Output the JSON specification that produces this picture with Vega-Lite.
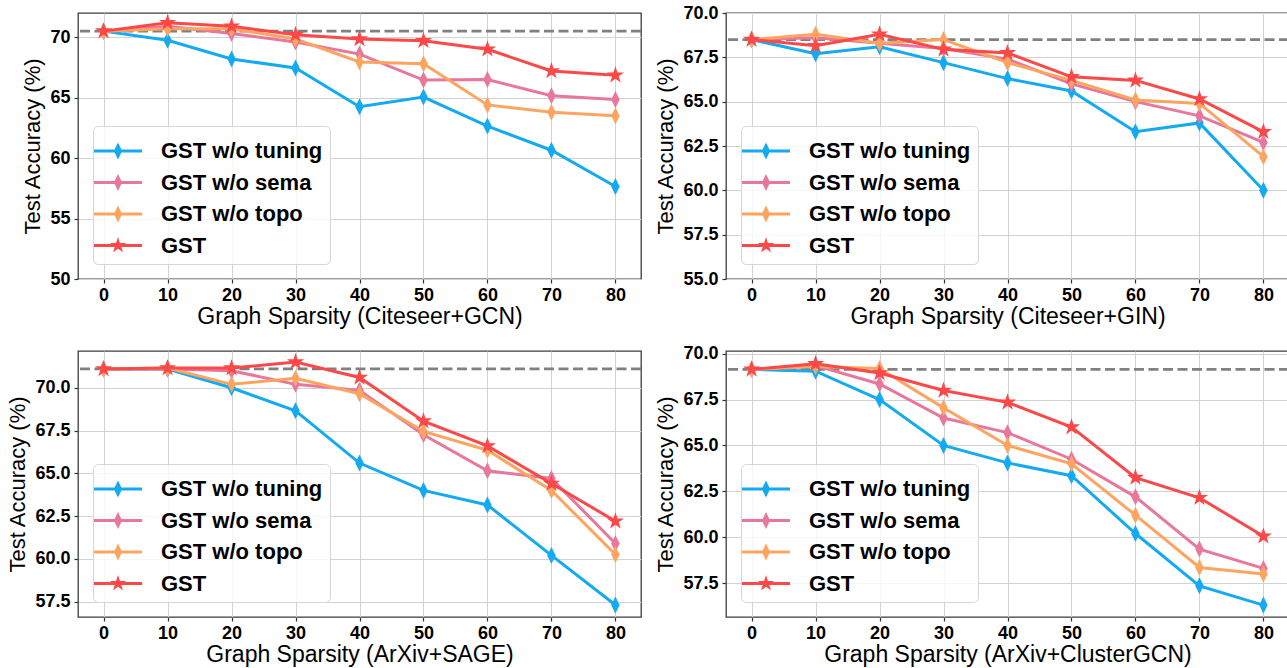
{
  "$schema": "https://vega.github.io/schema/vega-lite/v6.json",
  "background": "white",
  "padding": {"left": 6, "top": 3, "right": 0, "bottom": 0},
  "columns": 2,
  "spacing": {"column": 85, "row": 72},
  "bounds": "flush",
  "resolve": {"scale": {"color": "independent", "x": "independent", "y": "independent"}, "legend": {"color": "independent"}},
  "config": {
    "view": {"stroke": "#3c3c3c", "strokeWidth": 1.3},
    "axis": {"labelFont": "Liberation Sans", "labelFontSize": 18, "labelFontWeight": "bold", "labelColor": "black", "titleFont": "Liberation Sans", "titleFontSize": 22, "titleFontWeight": "normal", "titleColor": "black", "domain": false, "tickColor": "#333333", "tickSize": 4, "tickWidth": 1.2, "gridColor": "#d2d2d2", "gridWidth": 1, "labelPadding": 3, "labelFlush": false},
    "axisX": {"titlePadding": 1, "titleFontSize": 23},
    "axisY": {"titlePadding": 5, "labelPadding": 4},
    "legend": {"orient": "bottom-left", "offset": 15, "labelFont": "Liberation Sans", "labelFontSize": 22, "labelFontWeight": "bold", "labelColor": "black", "labelLimit": 400, "symbolSize": 1296, "symbolStrokeWidth": 0, "labelOffset": 25, "rowPadding": 2.5, "padding": 7, "fillColor": "rgba(255,255,255,0.8)", "strokeColor": "#d6d6d6", "cornerRadius": 5, "strokeWidth": 1}
  },
  "datasets": {
    "acc": [
      {"p":1,"m":"GST w/o tuning","s":0,"a":70.5},{"p":1,"m":"GST w/o tuning","s":10,"a":69.75},{"p":1,"m":"GST w/o tuning","s":20,"a":68.2},{"p":1,"m":"GST w/o tuning","s":30,"a":67.45},{"p":1,"m":"GST w/o tuning","s":40,"a":64.25},{"p":1,"m":"GST w/o tuning","s":50,"a":65.05},{"p":1,"m":"GST w/o tuning","s":60,"a":62.65},{"p":1,"m":"GST w/o tuning","s":70,"a":60.65},{"p":1,"m":"GST w/o tuning","s":80,"a":57.65},
      {"p":1,"m":"GST w/o sema","s":0,"a":70.5},{"p":1,"m":"GST w/o sema","s":10,"a":70.9},{"p":1,"m":"GST w/o sema","s":20,"a":70.3},{"p":1,"m":"GST w/o sema","s":30,"a":69.6},{"p":1,"m":"GST w/o sema","s":40,"a":68.6},{"p":1,"m":"GST w/o sema","s":50,"a":66.45},{"p":1,"m":"GST w/o sema","s":60,"a":66.5},{"p":1,"m":"GST w/o sema","s":70,"a":65.15},{"p":1,"m":"GST w/o sema","s":80,"a":64.85},
      {"p":1,"m":"GST w/o topo","s":0,"a":70.5},{"p":1,"m":"GST w/o topo","s":10,"a":70.7},{"p":1,"m":"GST w/o topo","s":20,"a":70.7},{"p":1,"m":"GST w/o topo","s":30,"a":69.85},{"p":1,"m":"GST w/o topo","s":40,"a":67.95},{"p":1,"m":"GST w/o topo","s":50,"a":67.8},{"p":1,"m":"GST w/o topo","s":60,"a":64.4},{"p":1,"m":"GST w/o topo","s":70,"a":63.8},{"p":1,"m":"GST w/o topo","s":80,"a":63.5},
      {"p":1,"m":"GST","s":0,"a":70.5},{"p":1,"m":"GST","s":10,"a":71.2},{"p":1,"m":"GST","s":20,"a":70.9},{"p":1,"m":"GST","s":30,"a":70.2},{"p":1,"m":"GST","s":40,"a":69.85},{"p":1,"m":"GST","s":50,"a":69.7},{"p":1,"m":"GST","s":60,"a":69.0},{"p":1,"m":"GST","s":70,"a":67.2},{"p":1,"m":"GST","s":80,"a":66.85},

      {"p":2,"m":"GST w/o tuning","s":0,"a":68.5},{"p":2,"m":"GST w/o tuning","s":10,"a":67.7},{"p":2,"m":"GST w/o tuning","s":20,"a":68.1},{"p":2,"m":"GST w/o tuning","s":30,"a":67.2},{"p":2,"m":"GST w/o tuning","s":40,"a":66.3},{"p":2,"m":"GST w/o tuning","s":50,"a":65.6},{"p":2,"m":"GST w/o tuning","s":60,"a":63.3},{"p":2,"m":"GST w/o tuning","s":70,"a":63.8},{"p":2,"m":"GST w/o tuning","s":80,"a":60.0},
      {"p":2,"m":"GST w/o sema","s":0,"a":68.5},{"p":2,"m":"GST w/o sema","s":10,"a":68.6},{"p":2,"m":"GST w/o sema","s":20,"a":68.3},{"p":2,"m":"GST w/o sema","s":30,"a":68.0},{"p":2,"m":"GST w/o sema","s":40,"a":67.4},{"p":2,"m":"GST w/o sema","s":50,"a":66.0},{"p":2,"m":"GST w/o sema","s":60,"a":65.0},{"p":2,"m":"GST w/o sema","s":70,"a":64.2},{"p":2,"m":"GST w/o sema","s":80,"a":62.7},
      {"p":2,"m":"GST w/o topo","s":0,"a":68.5},{"p":2,"m":"GST w/o topo","s":10,"a":68.8},{"p":2,"m":"GST w/o topo","s":20,"a":68.3},{"p":2,"m":"GST w/o topo","s":30,"a":68.5},{"p":2,"m":"GST w/o topo","s":40,"a":67.2},{"p":2,"m":"GST w/o topo","s":50,"a":66.2},{"p":2,"m":"GST w/o topo","s":60,"a":65.1},{"p":2,"m":"GST w/o topo","s":70,"a":64.9},{"p":2,"m":"GST w/o topo","s":80,"a":61.9},
      {"p":2,"m":"GST","s":0,"a":68.5},{"p":2,"m":"GST","s":10,"a":68.15},{"p":2,"m":"GST","s":20,"a":68.8},{"p":2,"m":"GST","s":30,"a":67.95},{"p":2,"m":"GST","s":40,"a":67.75},{"p":2,"m":"GST","s":50,"a":66.4},{"p":2,"m":"GST","s":60,"a":66.2},{"p":2,"m":"GST","s":70,"a":65.15},{"p":2,"m":"GST","s":80,"a":63.3},

      {"p":3,"m":"GST w/o tuning","s":0,"a":71.1},{"p":3,"m":"GST w/o tuning","s":10,"a":71.1},{"p":3,"m":"GST w/o tuning","s":20,"a":70.0},{"p":3,"m":"GST w/o tuning","s":30,"a":68.65},{"p":3,"m":"GST w/o tuning","s":40,"a":65.6},{"p":3,"m":"GST w/o tuning","s":50,"a":64.0},{"p":3,"m":"GST w/o tuning","s":60,"a":63.15},{"p":3,"m":"GST w/o tuning","s":70,"a":60.2},{"p":3,"m":"GST w/o tuning","s":80,"a":57.3},
      {"p":3,"m":"GST w/o sema","s":0,"a":71.1},{"p":3,"m":"GST w/o sema","s":10,"a":71.1},{"p":3,"m":"GST w/o sema","s":20,"a":71.0},{"p":3,"m":"GST w/o sema","s":30,"a":70.2},{"p":3,"m":"GST w/o sema","s":40,"a":69.85},{"p":3,"m":"GST w/o sema","s":50,"a":67.25},{"p":3,"m":"GST w/o sema","s":60,"a":65.15},{"p":3,"m":"GST w/o sema","s":70,"a":64.7},{"p":3,"m":"GST w/o sema","s":80,"a":60.9},
      {"p":3,"m":"GST w/o topo","s":0,"a":71.1},{"p":3,"m":"GST w/o topo","s":10,"a":71.15},{"p":3,"m":"GST w/o topo","s":20,"a":70.2},{"p":3,"m":"GST w/o topo","s":30,"a":70.55},{"p":3,"m":"GST w/o topo","s":40,"a":69.65},{"p":3,"m":"GST w/o topo","s":50,"a":67.45},{"p":3,"m":"GST w/o topo","s":60,"a":66.35},{"p":3,"m":"GST w/o topo","s":70,"a":64.0},{"p":3,"m":"GST w/o topo","s":80,"a":60.25},
      {"p":3,"m":"GST","s":0,"a":71.1},{"p":3,"m":"GST","s":10,"a":71.15},{"p":3,"m":"GST","s":20,"a":71.15},{"p":3,"m":"GST","s":30,"a":71.5},{"p":3,"m":"GST","s":40,"a":70.6},{"p":3,"m":"GST","s":50,"a":68.05},{"p":3,"m":"GST","s":60,"a":66.6},{"p":3,"m":"GST","s":70,"a":64.4},{"p":3,"m":"GST","s":80,"a":62.2},

      {"p":4,"m":"GST w/o tuning","s":0,"a":69.15},{"p":4,"m":"GST w/o tuning","s":10,"a":69.05},{"p":4,"m":"GST w/o tuning","s":20,"a":67.5},{"p":4,"m":"GST w/o tuning","s":30,"a":65.0},{"p":4,"m":"GST w/o tuning","s":40,"a":64.05},{"p":4,"m":"GST w/o tuning","s":50,"a":63.35},{"p":4,"m":"GST w/o tuning","s":60,"a":60.2},{"p":4,"m":"GST w/o tuning","s":70,"a":57.35},{"p":4,"m":"GST w/o tuning","s":80,"a":56.3},
      {"p":4,"m":"GST w/o sema","s":0,"a":69.15},{"p":4,"m":"GST w/o sema","s":10,"a":69.35},{"p":4,"m":"GST w/o sema","s":20,"a":68.35},{"p":4,"m":"GST w/o sema","s":30,"a":66.5},{"p":4,"m":"GST w/o sema","s":40,"a":65.7},{"p":4,"m":"GST w/o sema","s":50,"a":64.25},{"p":4,"m":"GST w/o sema","s":60,"a":62.2},{"p":4,"m":"GST w/o sema","s":70,"a":59.35},{"p":4,"m":"GST w/o sema","s":80,"a":58.3},
      {"p":4,"m":"GST w/o topo","s":0,"a":69.15},{"p":4,"m":"GST w/o topo","s":10,"a":69.3},{"p":4,"m":"GST w/o topo","s":20,"a":69.2},{"p":4,"m":"GST w/o topo","s":30,"a":67.05},{"p":4,"m":"GST w/o topo","s":40,"a":65.0},{"p":4,"m":"GST w/o topo","s":50,"a":64.0},{"p":4,"m":"GST w/o topo","s":60,"a":61.2},{"p":4,"m":"GST w/o topo","s":70,"a":58.35},{"p":4,"m":"GST w/o topo","s":80,"a":58.0},
      {"p":4,"m":"GST","s":0,"a":69.15},{"p":4,"m":"GST","s":10,"a":69.45},{"p":4,"m":"GST","s":20,"a":68.95},{"p":4,"m":"GST","s":30,"a":68.0},{"p":4,"m":"GST","s":40,"a":67.35},{"p":4,"m":"GST","s":50,"a":66.0},{"p":4,"m":"GST","s":60,"a":63.25},{"p":4,"m":"GST","s":70,"a":62.15},{"p":4,"m":"GST","s":80,"a":60.05}
    ],
    "base": [
      {"p":1,"a":70.5},{"p":2,"a":68.5},{"p":3,"a":71.1},{"p":4,"a":69.15}
    ]
  },
  "concat": [
    {
      "width": 563, "height": 266,
      "layer": [
        {"data": {"name": "base"}, "transform": [{"filter": "datum.p === 1"}],
         "mark": {"type": "rule", "strokeDash": [10, 4.5], "strokeWidth": 2.8, "color": "#808080"},
         "encoding": {"y": {"field": "a", "type": "quantitative", "scale": {"domain": [50, 72], "nice": false, "zero": false}, "axis": {"values": [50,55,60,65,70], "format": "d", "title": "Test Accuracy (%)"}}}},
        {"data": {"name": "acc"}, "transform": [{"filter": "datum.p === 1"}],
         "mark": {"type": "line", "strokeWidth": 3},
         "encoding": {
           "x": {"field": "s", "type": "quantitative", "scale": {"domain": [-4, 84], "nice": false, "zero": false}, "axis": {"values": [0,10,20,30,40,50,60,70,80], "title": "Graph Sparsity (Citeseer+GCN)"}},
           "y": {"field": "a", "type": "quantitative", "scale": {"domain": [50, 72], "nice": false, "zero": false}, "axis": {"values": [50,55,60,65,70], "format": "d", "title": "Test Accuracy (%)"}},
           "color": {"field": "m", "type": "nominal", "scale": {"domain": ["GST w/o tuning","GST w/o sema","GST w/o topo","GST"], "range": ["#13aaf2","#e8779b","#fda560","#fc4848"]},
             "legend": {"title": null, "symbolType": "M-1.333,-0.0833L1.333,-0.0833L1.333,0.0833L-1.333,0.0833ZM0,-0.467L0.227,0L0,0.467L-0.227,0Z", "encode": {"symbols": {"update": {"shape": {"signal": "datum.value === 'GST' ? 'M-1.333,-0.0833L1.333,-0.0833L1.333,0.0833L-1.333,0.0833ZM0,-0.472L0.106,-0.1458L0.4489,-0.1458L0.1713,0.0557L0.2775,0.3818L0,0.1803L-0.2775,0.3818L-0.1713,0.0557L-0.4489,-0.1458L-0.106,-0.1458Z' : 'M-1.333,-0.0833L1.333,-0.0833L1.333,0.0833L-1.333,0.0833ZM0,-0.467L0.227,0L0,0.467L-0.227,0Z'"}, "size": {"value": 1296}, "fill": {"signal": "datum.value === 'GST' ? '#fc4848' : datum.value === 'GST w/o topo' ? '#fda560' : datum.value === 'GST w/o sema' ? '#e8779b' : '#13aaf2'"}, "fillOpacity": {"value": 1}, "strokeWidth": {"value": 0}}}}}}
         }},
        {"data": {"name": "acc"}, "transform": [{"filter": "datum.p === 1 && datum.m !== 'GST'"}],
         "mark": {"type": "point", "filled": true, "opacity": 1, "shape": "M0,-1L0.5,0L0,1L-0.5,0Z", "size": 289},
         "encoding": {"x": {"field": "s", "type": "quantitative"}, "y": {"field": "a", "type": "quantitative"}, "color": {"field": "m", "type": "nominal"}}},
        {"data": {"name": "acc"}, "transform": [{"filter": "datum.p === 1 && datum.m === 'GST'"}],
         "mark": {"type": "point", "filled": true, "opacity": 1, "shape": "M0,-1L0.2245,-0.309L0.951,-0.309L0.363,0.118L0.588,0.809L0,0.382L-0.588,0.809L-0.363,0.118L-0.951,-0.309L-0.2245,-0.309Z", "size": 324},
         "encoding": {"x": {"field": "s", "type": "quantitative"}, "y": {"field": "a", "type": "quantitative"}, "color": {"field": "m", "type": "nominal"}}}
      ]
    },
    {
      "width": 563, "height": 266,
      "layer": [
        {"data": {"name": "base"}, "transform": [{"filter": "datum.p === 2"}],
         "mark": {"type": "rule", "strokeDash": [10, 4.5], "strokeWidth": 2.8, "color": "#808080"},
         "encoding": {"y": {"field": "a", "type": "quantitative", "scale": {"domain": [55, 70], "nice": false, "zero": false}, "axis": {"values": [55,57.5,60,62.5,65,67.5,70], "format": ".1f", "title": "Test Accuracy (%)"}}}},
        {"data": {"name": "acc"}, "transform": [{"filter": "datum.p === 2"}],
         "mark": {"type": "line", "strokeWidth": 3},
         "encoding": {
           "x": {"field": "s", "type": "quantitative", "scale": {"domain": [-4, 84], "nice": false, "zero": false}, "axis": {"values": [0,10,20,30,40,50,60,70,80], "title": "Graph Sparsity (Citeseer+GIN)"}},
           "y": {"field": "a", "type": "quantitative", "scale": {"domain": [55, 70], "nice": false, "zero": false}, "axis": {"values": [55,57.5,60,62.5,65,67.5,70], "format": ".1f", "title": "Test Accuracy (%)"}},
           "color": {"field": "m", "type": "nominal", "scale": {"domain": ["GST w/o tuning","GST w/o sema","GST w/o topo","GST"], "range": ["#13aaf2","#e8779b","#fda560","#fc4848"]},
             "legend": {"title": null, "symbolType": "M-1.333,-0.0833L1.333,-0.0833L1.333,0.0833L-1.333,0.0833ZM0,-0.467L0.227,0L0,0.467L-0.227,0Z", "encode": {"symbols": {"update": {"shape": {"signal": "datum.value === 'GST' ? 'M-1.333,-0.0833L1.333,-0.0833L1.333,0.0833L-1.333,0.0833ZM0,-0.472L0.106,-0.1458L0.4489,-0.1458L0.1713,0.0557L0.2775,0.3818L0,0.1803L-0.2775,0.3818L-0.1713,0.0557L-0.4489,-0.1458L-0.106,-0.1458Z' : 'M-1.333,-0.0833L1.333,-0.0833L1.333,0.0833L-1.333,0.0833ZM0,-0.467L0.227,0L0,0.467L-0.227,0Z'"}, "size": {"value": 1296}, "fill": {"signal": "datum.value === 'GST' ? '#fc4848' : datum.value === 'GST w/o topo' ? '#fda560' : datum.value === 'GST w/o sema' ? '#e8779b' : '#13aaf2'"}, "fillOpacity": {"value": 1}, "strokeWidth": {"value": 0}}}}}}
         }},
        {"data": {"name": "acc"}, "transform": [{"filter": "datum.p === 2 && datum.m !== 'GST'"}],
         "mark": {"type": "point", "filled": true, "opacity": 1, "shape": "M0,-1L0.5,0L0,1L-0.5,0Z", "size": 289},
         "encoding": {"x": {"field": "s", "type": "quantitative"}, "y": {"field": "a", "type": "quantitative"}, "color": {"field": "m", "type": "nominal"}}},
        {"data": {"name": "acc"}, "transform": [{"filter": "datum.p === 2 && datum.m === 'GST'"}],
         "mark": {"type": "point", "filled": true, "opacity": 1, "shape": "M0,-1L0.2245,-0.309L0.951,-0.309L0.363,0.118L0.588,0.809L0,0.382L-0.588,0.809L-0.363,0.118L-0.951,-0.309L-0.2245,-0.309Z", "size": 324},
         "encoding": {"x": {"field": "s", "type": "quantitative"}, "y": {"field": "a", "type": "quantitative"}, "color": {"field": "m", "type": "nominal"}}}
      ]
    },
    {
      "width": 563, "height": 266,
      "layer": [
        {"data": {"name": "base"}, "transform": [{"filter": "datum.p === 3"}],
         "mark": {"type": "rule", "strokeDash": [10, 4.5], "strokeWidth": 2.8, "color": "#808080"},
         "encoding": {"y": {"field": "a", "type": "quantitative", "scale": {"domain": [56.6, 72.15], "nice": false, "zero": false}, "axis": {"values": [57.5,60,62.5,65,67.5,70], "format": ".1f", "title": "Test Accuracy (%)"}}}},
        {"data": {"name": "acc"}, "transform": [{"filter": "datum.p === 3"}],
         "mark": {"type": "line", "strokeWidth": 3},
         "encoding": {
           "x": {"field": "s", "type": "quantitative", "scale": {"domain": [-4, 84], "nice": false, "zero": false}, "axis": {"values": [0,10,20,30,40,50,60,70,80], "title": "Graph Sparsity (ArXiv+SAGE)"}},
           "y": {"field": "a", "type": "quantitative", "scale": {"domain": [56.6, 72.15], "nice": false, "zero": false}, "axis": {"values": [57.5,60,62.5,65,67.5,70], "format": ".1f", "title": "Test Accuracy (%)"}},
           "color": {"field": "m", "type": "nominal", "scale": {"domain": ["GST w/o tuning","GST w/o sema","GST w/o topo","GST"], "range": ["#13aaf2","#e8779b","#fda560","#fc4848"]},
             "legend": {"title": null, "symbolType": "M-1.333,-0.0833L1.333,-0.0833L1.333,0.0833L-1.333,0.0833ZM0,-0.467L0.227,0L0,0.467L-0.227,0Z", "encode": {"symbols": {"update": {"shape": {"signal": "datum.value === 'GST' ? 'M-1.333,-0.0833L1.333,-0.0833L1.333,0.0833L-1.333,0.0833ZM0,-0.472L0.106,-0.1458L0.4489,-0.1458L0.1713,0.0557L0.2775,0.3818L0,0.1803L-0.2775,0.3818L-0.1713,0.0557L-0.4489,-0.1458L-0.106,-0.1458Z' : 'M-1.333,-0.0833L1.333,-0.0833L1.333,0.0833L-1.333,0.0833ZM0,-0.467L0.227,0L0,0.467L-0.227,0Z'"}, "size": {"value": 1296}, "fill": {"signal": "datum.value === 'GST' ? '#fc4848' : datum.value === 'GST w/o topo' ? '#fda560' : datum.value === 'GST w/o sema' ? '#e8779b' : '#13aaf2'"}, "fillOpacity": {"value": 1}, "strokeWidth": {"value": 0}}}}}}
         }},
        {"data": {"name": "acc"}, "transform": [{"filter": "datum.p === 3 && datum.m !== 'GST'"}],
         "mark": {"type": "point", "filled": true, "opacity": 1, "shape": "M0,-1L0.5,0L0,1L-0.5,0Z", "size": 289},
         "encoding": {"x": {"field": "s", "type": "quantitative"}, "y": {"field": "a", "type": "quantitative"}, "color": {"field": "m", "type": "nominal"}}},
        {"data": {"name": "acc"}, "transform": [{"filter": "datum.p === 3 && datum.m === 'GST'"}],
         "mark": {"type": "point", "filled": true, "opacity": 1, "shape": "M0,-1L0.2245,-0.309L0.951,-0.309L0.363,0.118L0.588,0.809L0,0.382L-0.588,0.809L-0.363,0.118L-0.951,-0.309L-0.2245,-0.309Z", "size": 324},
         "encoding": {"x": {"field": "s", "type": "quantitative"}, "y": {"field": "a", "type": "quantitative"}, "color": {"field": "m", "type": "nominal"}}}
      ]
    },
    {
      "width": 563, "height": 266,
      "layer": [
        {"data": {"name": "base"}, "transform": [{"filter": "datum.p === 4"}],
         "mark": {"type": "rule", "strokeDash": [10, 4.5], "strokeWidth": 2.8, "color": "#808080"},
         "encoding": {"y": {"field": "a", "type": "quantitative", "scale": {"domain": [55.65, 70.15], "nice": false, "zero": false}, "axis": {"values": [57.5,60,62.5,65,67.5,70], "format": ".1f", "title": "Test Accuracy (%)"}}}},
        {"data": {"name": "acc"}, "transform": [{"filter": "datum.p === 4"}],
         "mark": {"type": "line", "strokeWidth": 3},
         "encoding": {
           "x": {"field": "s", "type": "quantitative", "scale": {"domain": [-4, 84], "nice": false, "zero": false}, "axis": {"values": [0,10,20,30,40,50,60,70,80], "title": "Graph Sparsity (ArXiv+ClusterGCN)"}},
           "y": {"field": "a", "type": "quantitative", "scale": {"domain": [55.65, 70.15], "nice": false, "zero": false}, "axis": {"values": [57.5,60,62.5,65,67.5,70], "format": ".1f", "title": "Test Accuracy (%)"}},
           "color": {"field": "m", "type": "nominal", "scale": {"domain": ["GST w/o tuning","GST w/o sema","GST w/o topo","GST"], "range": ["#13aaf2","#e8779b","#fda560","#fc4848"]},
             "legend": {"title": null, "symbolType": "M-1.333,-0.0833L1.333,-0.0833L1.333,0.0833L-1.333,0.0833ZM0,-0.467L0.227,0L0,0.467L-0.227,0Z", "encode": {"symbols": {"update": {"shape": {"signal": "datum.value === 'GST' ? 'M-1.333,-0.0833L1.333,-0.0833L1.333,0.0833L-1.333,0.0833ZM0,-0.472L0.106,-0.1458L0.4489,-0.1458L0.1713,0.0557L0.2775,0.3818L0,0.1803L-0.2775,0.3818L-0.1713,0.0557L-0.4489,-0.1458L-0.106,-0.1458Z' : 'M-1.333,-0.0833L1.333,-0.0833L1.333,0.0833L-1.333,0.0833ZM0,-0.467L0.227,0L0,0.467L-0.227,0Z'"}, "size": {"value": 1296}, "fill": {"signal": "datum.value === 'GST' ? '#fc4848' : datum.value === 'GST w/o topo' ? '#fda560' : datum.value === 'GST w/o sema' ? '#e8779b' : '#13aaf2'"}, "fillOpacity": {"value": 1}, "strokeWidth": {"value": 0}}}}}}
         }},
        {"data": {"name": "acc"}, "transform": [{"filter": "datum.p === 4 && datum.m !== 'GST'"}],
         "mark": {"type": "point", "filled": true, "opacity": 1, "shape": "M0,-1L0.5,0L0,1L-0.5,0Z", "size": 289},
         "encoding": {"x": {"field": "s", "type": "quantitative"}, "y": {"field": "a", "type": "quantitative"}, "color": {"field": "m", "type": "nominal"}}},
        {"data": {"name": "acc"}, "transform": [{"filter": "datum.p === 4 && datum.m === 'GST'"}],
         "mark": {"type": "point", "filled": true, "opacity": 1, "shape": "M0,-1L0.2245,-0.309L0.951,-0.309L0.363,0.118L0.588,0.809L0,0.382L-0.588,0.809L-0.363,0.118L-0.951,-0.309L-0.2245,-0.309Z", "size": 324},
         "encoding": {"x": {"field": "s", "type": "quantitative"}, "y": {"field": "a", "type": "quantitative"}, "color": {"field": "m", "type": "nominal"}}}
      ]
    }
  ]
}
